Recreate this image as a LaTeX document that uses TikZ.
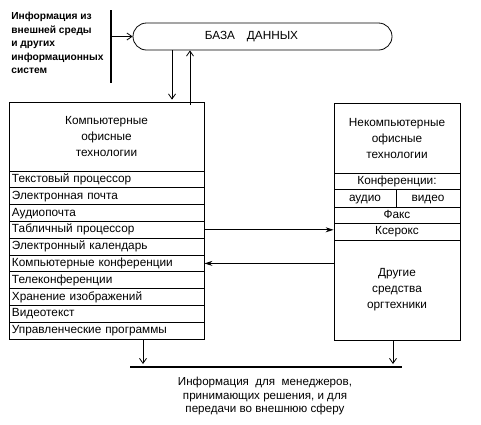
\documentclass[tikz,border=0pt]{standalone}
\usepackage{fontspec}
\setmainfont{Liberation Sans}
\usetikzlibrary{arrows.meta}

\tikzset{
  txt/.style={font=\fontsize{11.8}{16}\selectfont},
  cell/.style={draw, txt, inner ysep=0pt, text height=8.4pt, text depth=2.4pt},
  lcell/.style={cell, inner xsep=3pt, text width=189pt, align=left, minimum height=16.8pt},
  rcell/.style={cell, inner xsep=0pt, align=center},
  head/.style={draw, txt, inner sep=0pt, align=center},
  arr/.style={-{Straight Barb[length=5pt,width=7pt]}},
  farr/.style={-{Stealth[length=8pt,width=5pt]}},
  heavy/.style={line width=1.8pt}
}

\begin{document}
\begin{tikzpicture}[x=1pt,y=-1pt,line width=0.8pt]
  \useasboundingbox (0,0) rectangle (481,424);

  % source and data base
  \node[anchor=north west, align=left, font=\bfseries\fontsize{10.2}{13.5}\selectfont, inner sep=0pt] (src) at (11,12)
    {Информация из\\внешней среды\\и других\\информационных\\систем};
  \coordinate (bartop) at (111,10);
  \coordinate (barbot) at (111,83);
  \draw[heavy] (bartop) -- (barbot);
  \node[draw, txt, rounded corners=13.5pt, minimum width=259pt, minimum height=27pt] (db) at (262.5,36.5)
    {БАЗА\quad ДАННЫХ\hspace*{22pt}};
  \draw[arr] (db.west -| bartop) -- (db.west);

  % computer office technologies
  \node[head, minimum width=195pt, minimum height=69pt] (lhead) at (106.5,136.5)
    {Компьютерные\\офисные\\технологии};
  \node[lcell] (r1) at (106.5,179.4) {Текстовый процессор};
  \node[lcell] (r2) at (106.5,196.2) {Электронная почта};
  \node[lcell] (r3) at (106.5,213.0) {Аудиопочта};
  \node[lcell] (r4) at (106.5,229.8) {Табличный процессор};
  \node[lcell] (r5) at (106.5,246.6) {Электронный календарь};
  \node[lcell] (r6) at (106.5,263.4) {Компьютерные конференции};
  \node[lcell] (r7) at (106.5,280.2) {Телеконференции};
  \node[lcell] (r8) at (106.5,297.0) {Хранение изображений};
  \node[lcell] (r9) at (106.5,313.8) {Видеотекст};
  \node[lcell] (r10) at (106.5,330.6) {Управленческие программы};

  % non-computer office technologies
  \node[head, minimum width=126pt, minimum height=70pt] (rhead) at (397,138)
    {Некомпьютерные\\офисные\\технологии};
  \node[rcell, minimum width=126pt, minimum height=16pt] (conf) at (397,181) {Конференции:};
  \node[rcell, minimum width=62pt, minimum height=18pt] (audio) at (365,198) {аудио};
  \node[rcell, minimum width=64pt, minimum height=18pt] (video) at (428,198) {видео};
  \node[rcell, minimum width=126pt, minimum height=16pt] (fax) at (397,215) {Факс};
  \node[rcell, minimum width=126pt, minimum height=17pt] (xerox) at (397,231.5) {Ксерокс};
  \node[head, minimum width=126pt, minimum height=100pt] (other) at (397,290)
    {Другие\\средства\\оргтехники};

  % links
  \coordinate (dnx) at (172,0);
  \coordinate (upx) at (190,0);
  \draw[arr, shorten >=2pt] (db.south -| dnx) -- (lhead.north -| dnx);
  \draw[arr] ([yshift=-3pt]lhead.north -| upx) -- (db.south -| upx);
  \draw[farr] (r4.east) -- (r4.east -| xerox.west);
  \draw[farr] (other.west |- r6.east) -- (r6.east);

  % output
  \coordinate (outl) at (130,367);
  \coordinate (outr) at (402,367);
  \coordinate (lout) at (143,0);
  \coordinate (rout) at (393,0);
  \draw[heavy] (outl) -- (outr);
  \draw[arr, shorten >=3pt] (r10.south -| lout) -- (outl -| lout);
  \draw[arr, shorten >=3pt] (other.south -| rout) -- (outl -| rout);
  \node[align=center, font=\fontsize{11.6}{13.2}\selectfont] (info) at (265,396)
    {Информация\ \ для\ \ менеджеров,\\принимающих решения, и для\\передачи во внешнюю сферу};
\end{tikzpicture}
\end{document}
